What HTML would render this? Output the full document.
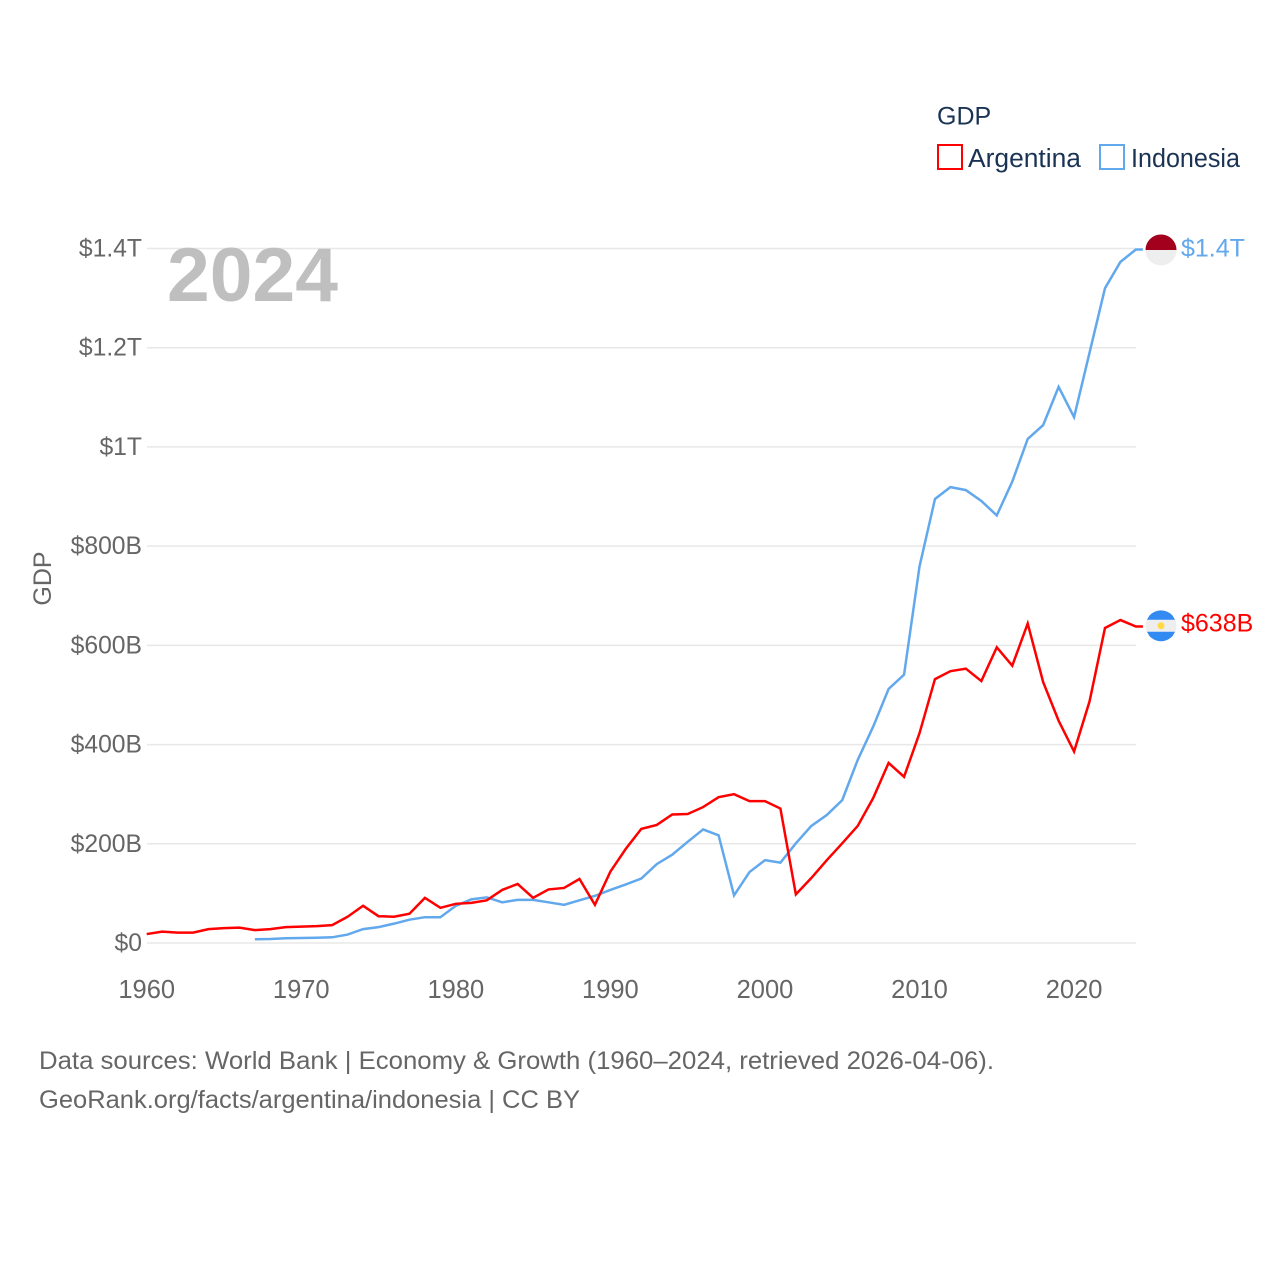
<!DOCTYPE html>
<html lang="en">
<head>
<meta charset="utf-8">
<title>GDP: Argentina and Indonesia</title>
<style>
html,body{margin:0;padding:0;background:#fff;}
svg{display:block;font-family:"Liberation Sans",sans-serif;}
</style>
</head>
<body>
<svg id="chart" xmlns="http://www.w3.org/2000/svg" width="1280" height="1280" viewBox="0 0 1280 1280">
  <rect x="0" y="0" width="1280" height="1280" fill="#ffffff"/>
  <g id="grid"></g>
  <text x="167" y="301" font-size="76" font-weight="700" textLength="171" lengthAdjust="spacingAndGlyphs" fill="#bfbfbf">2024</text>
  <g id="yticks"></g>
  <g id="xticks"></g>
  <text transform="translate(51,578.5) rotate(-90)" text-anchor="middle" font-size="25" fill="#666666">GDP</text>
  <g id="series"></g>
  <g>
    <text x="937" y="124.500" font-size="25" fill="#1a3354">GDP</text>
    <g>
      <rect x="938" y="145" width="24" height="24" fill="none" stroke="#ff0000" stroke-width="2"/>
      <text x="968" y="167" font-size="25.500" textLength="113" lengthAdjust="spacingAndGlyphs" fill="#1a3354">Argentina</text>
    </g>
    <g>
      <rect x="1100" y="145" width="24" height="24" fill="none" stroke="#62a8ec" stroke-width="2"/>
      <text x="1131" y="167" font-size="25.500" textLength="109" lengthAdjust="spacingAndGlyphs" fill="#1a3354">Indonesia</text>
    </g>
  </g>
  <g>
    <text x="39" y="1069" font-size="25" textLength="955" lengthAdjust="spacingAndGlyphs" fill="#666666">Data sources: World Bank | Economy &amp; Growth (1960–2024, retrieved 2026-04-06).</text>
    <text x="39" y="1108" font-size="25" textLength="541" lengthAdjust="spacingAndGlyphs" fill="#666666">GeoRank.org/facts/argentina/indonesia | CC BY</text>
  </g>
</svg>
<script>
const xTickYears = [1960, 1970, 1980, 1990, 2000, 2010, 2020];
const yTickValues = [0, 200, 400, 600, 800, 1000, 1200, 1400];
const yTickLabels = ["$0", "$200B", "$400B", "$600B", "$800B", "$1T", "$1.2T", "$1.4T"];
const argentinaStartYear = 1960;
const argentinaGdp = [18, 23, 21, 21, 28, 30, 31, 26, 28, 32, 33, 34, 36, 53, 75, 54, 53, 59, 91, 71, 79, 81, 86, 107, 119, 91, 108, 111, 129, 77, 144, 190, 230, 238, 259, 260, 274, 294, 300, 286, 286, 271, 98, 131, 167, 201, 236, 292, 363, 335, 423, 532, 548, 553, 528, 596, 559, 644, 526, 448, 386, 487, 635, 651, 638];
const indonesiaStartYear = 1967;
const indonesiaGdp = [7.5, 8, 9.5, 10, 10.5, 11.5, 17, 28, 32, 39, 47, 52, 52, 75, 88, 92, 82, 87, 87, 82, 77, 86, 95, 107, 118, 130, 159, 178, 204, 229, 217, 96, 143, 167, 162, 201, 236, 258, 288, 369, 436, 512, 541, 759, 895, 919, 913, 891, 862, 930, 1016, 1044, 1121, 1060, 1190, 1320, 1373, 1398];
const argentinaLabel = "$638B";
const indonesiaLabel = "$1.4T";

const SVG_NS = "http://www.w3.org/2000/svg";
const xScale = function (year) { return 146.7 + (year - 1960) * (1135.9 - 146.7) / 64; };
const yScale = function (value) { return 943 - value * (943 - 248.5) / 1400; };
const make = function (tag, parent) {
  const el = document.createElementNS(SVG_NS, tag);
  parent.appendChild(el);
  return el;
};

const grid = document.getElementById("grid");
const yticks = document.getElementById("yticks");
const xticks = document.getElementById("xticks");
const series = document.getElementById("series");

yTickValues.forEach(function (value, i) {
  const line = make("line", grid);
  
  
  line.setAttribute("x1", 147);
  line.setAttribute("x2", 1136);
  line.setAttribute("y1", yScale(value));
  line.setAttribute("y2", yScale(value));
  line.setAttribute("stroke", "#e8e8e8");
  line.setAttribute("stroke-width", 1.5);

  const label = make("text", yticks);
  
  
  label.setAttribute("x", 142);
  label.setAttribute("y", yScale(value) + 8);
  label.setAttribute("text-anchor", "end");
  label.setAttribute("font-size", 24.7);
  label.setAttribute("fill", "#666666");
  label.textContent = yTickLabels[i];
});

xTickYears.forEach(function (year) {
  const label = make("text", xticks);
  
  
  label.setAttribute("x", xScale(year));
  label.setAttribute("y", 998);
  label.setAttribute("text-anchor", "middle");
  label.setAttribute("font-size", 25.5);
  label.setAttribute("fill", "#666666");
  label.textContent = String(year);
});

const pathFor = function (values, startYear) {
  return values.map(function (value, i) {
    return (i === 0 ? "M" : "L") + xScale(startYear + i).toFixed(2) + " " + yScale(value).toFixed(2);
  }).join(" ");
};

const indonesiaLine = make("path", series);


indonesiaLine.setAttribute("d", pathFor(indonesiaGdp, indonesiaStartYear) + " h 7");
indonesiaLine.setAttribute("fill", "none");
indonesiaLine.setAttribute("stroke", "#62a8ec");
indonesiaLine.setAttribute("stroke-width", 2.5);

const argentinaLine = make("path", series);


argentinaLine.setAttribute("d", pathFor(argentinaGdp, argentinaStartYear) + " h 7");
argentinaLine.setAttribute("fill", "none");
argentinaLine.setAttribute("stroke", "#ff0000");
argentinaLine.setAttribute("stroke-width", 2.5);

const endY = yScale(indonesiaGdp[indonesiaGdp.length - 1]);
const flagIndonesia = make("g", series);


flagIndonesia.setAttribute("transform", "translate(1161," + (endY + 0.5) + ")");
const idBase = make("circle", flagIndonesia);
idBase.setAttribute("r", 15.5);
idBase.setAttribute("fill", "#eeeeee");
const idTop = make("path", flagIndonesia);
idTop.setAttribute("d", "M-15.5 0 A15.5 15.5 0 0 1 15.5 0 Z");
idTop.setAttribute("fill", "#a2001d");

const endYA = yScale(argentinaGdp[argentinaGdp.length - 1]);
const flagArgentina = make("g", series);


flagArgentina.setAttribute("transform", "translate(1161," + (endYA - 0.7) + ")");
const arBase = make("circle", flagArgentina);
arBase.setAttribute("r", 15.5);
arBase.setAttribute("fill", "#eeeeee");
const arTop = make("path", flagArgentina);
arTop.setAttribute("d", "M-11.6 -10.2 A15.5 15.5 0 0 1 11.6 -10.2 L 14 -6 H -14 Z");
arTop.setAttribute("fill", "#338af3");
const arBottom = make("path", flagArgentina);
arBottom.setAttribute("d", "M-11.6 10.2 A15.5 15.5 0 0 0 11.6 10.2 L 14 6 H -14 Z");
arBottom.setAttribute("fill", "#338af3");
const arSun = make("circle", flagArgentina);
arSun.setAttribute("r", 3.5);
arSun.setAttribute("fill", "#ffda44");

const labelIndonesia = make("text", series);


labelIndonesia.setAttribute("x", 1181);
labelIndonesia.setAttribute("y", endY + 7);
labelIndonesia.setAttribute("font-size", 25);
labelIndonesia.setAttribute("fill", "#62a8ec");
labelIndonesia.textContent = indonesiaLabel;

const labelArgentina = make("text", series);


labelArgentina.setAttribute("x", 1181);
labelArgentina.setAttribute("y", endYA + 5);
labelArgentina.setAttribute("font-size", 25);
labelArgentina.setAttribute("fill", "#ff0000");
labelArgentina.textContent = argentinaLabel;
</script>
</body>
</html>
